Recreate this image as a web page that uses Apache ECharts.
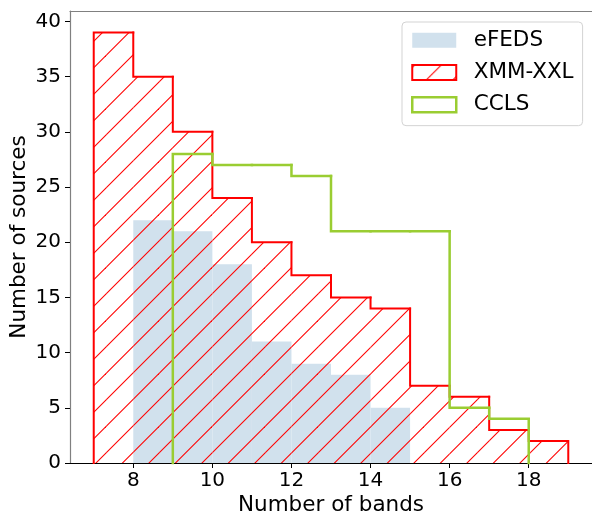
<!DOCTYPE html>
<html><head><meta charset="utf-8">
<script src="https://cdn.jsdelivr.net/npm/echarts@6/dist/echarts.min.js"></script>
<style>html,body{margin:0;padding:0;background:#fff}#c{width:592px;height:515px}</style>
</head><body><div id="c"></div>
<script>
// ---- data ----
const binEdges = [7,8,9,10,11,12,13,14,15,16,17,18,19];
const efedsCounts = [0,22,21,18,11,9,8,5,0,0,0,0];
const xmmCounts   = [39,35,30,24,20,17,15,14,7,6,3,2];
const cclsCounts  = [0,0,28,27,27,26,21,21,21,5,4,0];
const xTicks = [8,10,12,14,16,18];
const yTicks = [0,5,10,15,20,25,30,35,40];
const seriesNames = ['eFEDS','XMM-XXL','CCLS'];

function rows(counts){
  const out = [];
  counts.forEach((c,i)=>{ if(c>0) out.push([binEdges[i], binEdges[i+1], c]); });
  return out;
}

// hatch pattern '/'
const period = 26.5, tile = 53, phase = 2.5;
const pc = document.createElement('canvas');
pc.width = tile; pc.height = tile;
const g = pc.getContext('2d');
g.strokeStyle = '#ff0000'; g.lineWidth = 1.1;
for (let k=-3;k<=6;k++){
  const c = phase + period*k;
  g.beginPath(); g.moveTo(c+20,-20); g.lineTo(-20,c+20); g.stroke();
}
const hatch = {image: pc, repeat: 'repeat'};

const FONT = 'DejaVu Sans';
const RED = '#ff0000', GREEN = '#9acd32', BLUE = '#d1e1ed';

function rectItem(fill){
  return function(params, api){
    const a = api.coord([api.value(0), api.value(2)]);
    const b = api.coord([api.value(1), 0]);
    return {type:'rect', shape:{x:a[0], y:a[1], width:b[0]-a[0], height:b[1]-a[1]},
            style:{fill: fill, stroke: null}};
  };
}
function stepItem(color, width, n){
  return function(params, api){
    const i = params.dataIndexInside;
    const l = api.value(0), r = api.value(1), v = api.value(2);
    const prev = i>0 ? api.value(2, i-1) : 0;
    const pts = [api.coord([l, prev]), api.coord([l, v]), api.coord([r, v])];
    if (i === n-1) pts.push(api.coord([r, 0]));
    return {type:'polyline', shape:{points: pts},
            style:{stroke: color, lineWidth: width, fill: null, lineCap:'square', lineJoin:'miter'}};
  };
}

const efRows = rows(efedsCounts), xmmRows = rows(xmmCounts), ccRows = rows(cclsCounts);

const chart = echarts.init(document.getElementById('c'), null, {renderer:'canvas'});
chart.setOption({
  animation: false,
  backgroundColor: '#fff',
  grid: {left:70, right:0, top:11, bottom:52, containLabel:false, outerBoundsMode:'none'},
  xAxis: [{
    type:'value', min:6.4, max:19.6,
    axisLine:{show:true, lineStyle:{color:'#000', width:1.2}},
    axisTick:{show:true, length:5, customValues: xTicks, lineStyle:{color:'#000', width:1}},
    axisLabel:{customValues: xTicks, margin:8, color:'#000', fontSize:20, fontFamily:FONT},
    splitLine:{show:false},
    name:'Number of bands', nameLocation:'middle', nameGap:31, nameMoveOverlap:false,
    nameTextStyle:{color:'#000', fontSize:21.5, fontFamily:FONT}
  },{
    type:'value', position:'top', min:6.4, max:19.6,
    axisLine:{show:true, lineStyle:{color:'#808080', width:1.2}},
    axisTick:{show:false}, axisLabel:{show:false}, splitLine:{show:false}
  }],
  yAxis: {
    type:'value', min:0, max:40.95,
    axisLine:{show:true, lineStyle:{color:'#808080', width:1.2}},
    axisTick:{show:true, length:5, customValues: yTicks, lineStyle:{color:'#000', width:1}},
    axisLabel:{customValues: yTicks, margin:9, color:'#000', fontSize:20, fontFamily:FONT},
    splitLine:{show:false},
    name:'Number of sources', nameLocation:'middle', nameGap:40, nameMoveOverlap:false,
    nameTextStyle:{color:'#000', fontSize:21.5, fontFamily:FONT}
  },
  legend: {
    orient:'vertical', left:402, top:22,
    padding:[7.25,9,10,9], itemWidth:44, itemHeight:15, itemGap:10.2,
    backgroundColor:'rgba(255,255,255,0.8)', borderColor:'#d3d3d3', borderWidth:1, borderRadius:4,
    textStyle:{color:'#000', fontSize:21.5, fontFamily:FONT, padding:[0,0,0,12.4]},
    selectedMode:false,
    data:[
      {name:seriesNames[0], icon:'rect', itemStyle:{color:BLUE, borderWidth:0}},
      {name:seriesNames[1], icon:'rect', itemStyle:{color:hatch, borderColor:RED, borderWidth:2}},
      {name:seriesNames[2], icon:'rect', itemStyle:{color:'#fff', borderColor:GREEN, borderWidth:2.5}}
    ]
  },
  series: [
    {name:seriesNames[0], type:'custom', data:efRows, encode:{x:[0,1], y:2}, z:2,
     itemStyle:{color:BLUE}, renderItem: rectItem(BLUE)},
    {name:seriesNames[1], type:'custom', data:xmmRows, encode:{x:[0,1], y:2}, z:3,
     itemStyle:{color:RED}, renderItem: rectItem(hatch)},
    {name:seriesNames[1], type:'custom', data:xmmRows, encode:{x:[0,1], y:2}, z:4,
     itemStyle:{color:RED}, renderItem: stepItem(RED, 2, xmmRows.length)},
    {name:seriesNames[2], type:'custom', data:ccRows, encode:{x:[0,1], y:2}, z:5,
     itemStyle:{color:GREEN}, renderItem: stepItem(GREEN, 2.5, ccRows.length)}
  ]
});
</script></body></html>
